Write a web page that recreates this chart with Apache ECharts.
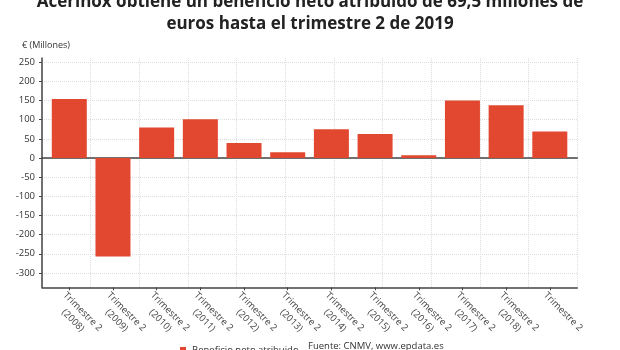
<!DOCTYPE html>
<html>
<head>
<meta charset="utf-8">
<script src="https://cdn.jsdelivr.net/npm/echarts@6/dist/echarts.min.js"></script>
<style>
  html, body { margin: 0; padding: 0; background: #fff; }
  #main { width: 620px; height: 350px; }
</style>
</head>
<body>
<div id="main"></div>
<script>
var categories = [
  'Trimestre 2\n(2008)', 'Trimestre 2\n(2009)', 'Trimestre 2\n(2010)', 'Trimestre 2\n(2011)',
  'Trimestre 2\n(2012)', 'Trimestre 2\n(2013)', 'Trimestre 2\n(2014)', 'Trimestre 2\n(2015)',
  'Trimestre 2\n(2016)', 'Trimestre 2\n(2017)', 'Trimestre 2\n(2018)', 'Trimestre 2'
];
var beneficio = [154, -257, 80, 101, 39, 15, 75, 63, 7, 150, 138, 69.5];
var yMin = -300, yMax = 250, yStep = 50;

var font = "'Open Sans', 'Noto Sans', sans-serif";
var myChart = echarts.init(document.getElementById('main'));
var option = {
  animation: false,
  textStyle: { fontFamily: font },
  title: {
    text: 'Acerinox obtiene un beneficio neto atribuido de 69,5 millones de\neuros hasta el trimestre 2 de 2019',
    left: 'center',
    top: -14,
    textStyle: { fontSize: 17, fontWeight: 'bold', color: '#222', lineHeight: 22, fontFamily: font }
  },
  legend: {
    data: ['Beneficio neto atribuido'],
    left: 175,
    top: 340,
    icon: 'rect',
    itemWidth: 6,
    itemHeight: 6,
    textStyle: { fontSize: 9.5, color: '#333', padding: [0, 0, 0, 1], fontFamily: font }
  },
  graphic: [
    { type: 'text', left: 22, top: 41, style: { text: '€ (Millones)', fontSize: 9, fill: '#333', fontFamily: font } },
    { type: 'text', left: 308, top: 341, style: { text: 'Fuente: CNMV, www.epdata.es', fontSize: 9.5, fill: '#333', fontFamily: font } }
  ],
  grid: [
    // marco: lineas verticales y ejes exteriores
    { left: 42, right: 42.7, top: 58, bottom: 62.7 },
    // eje y con etiquetas
    { left: 42, right: 42.7, top: 62.3, bottom: 77.1 },
    // barras
    { left: 47.45, right: 48.35, top: 62.3, bottom: 77.1 }
  ],
  xAxis: [
    {
      gridIndex: 0, type: 'value', min: 0, max: 11, interval: 1,
      axisLine: { show: true, onZero: false, lineStyle: { color: '#444', width: 1.5 } },
      axisTick: { show: false }, axisLabel: { show: false },
      splitLine: { show: true, lineStyle: { color: '#ddd', type: 'dotted' } }
    },
    {
      gridIndex: 1, type: 'value', min: 0, max: 1,
      axisLine: { show: true, onZero: true, lineStyle: { color: '#444', width: 1.5 } },
      axisTick: { show: false }, axisLabel: { show: false }, splitLine: { show: false }
    },
    {
      gridIndex: 2, type: 'category', data: categories, offset: 14.4,
      axisLine: { show: false, onZero: false },
      axisTick: { show: true, alignWithLabel: true, length: 3, lineStyle: { color: '#444' } },
      axisLabel: {
        rotate: -45, interval: 0, margin: 2, verticalAlign: 'top',
        formatter: function (v) {
          var p = v.split('\n');
          return '{a|' + p[0] + '}' + (p[1] ? '\n{b|' + p[1] + '}' : '');
        },
        rich: {
          a: { fontSize: 9.5, color: '#444', lineHeight: 13, fontFamily: font },
          b: { fontSize: 9.5, color: '#444', lineHeight: 13, padding: [0, 0, 0, 11], fontFamily: font }
        }
      }
    }
  ],
  yAxis: [
    {
      gridIndex: 0, type: 'value', min: 0, max: 1,
      axisLine: { show: true, lineStyle: { color: '#444', width: 1.5 } },
      axisTick: { show: false }, axisLabel: { show: false }, splitLine: { show: false }
    },
    {
      gridIndex: 1, type: 'value', min: yMin, max: yMax, interval: yStep,
      axisLine: { show: false },
      axisTick: { show: true, length: 3, lineStyle: { color: '#444' } },
      axisLabel: { fontSize: 9.5, color: '#333', margin: 7, fontFamily: font },
      splitLine: { show: true, lineStyle: { color: '#ddd', type: 'dotted' } }
    },
    {
      gridIndex: 2, type: 'value', min: yMin, max: yMax, interval: yStep,
      axisLine: { show: false }, axisTick: { show: false }, axisLabel: { show: false }, splitLine: { show: false }
    }
  ],
  series: [
    {
      name: 'Beneficio neto atribuido',
      type: 'bar',
      xAxisIndex: 2,
      yAxisIndex: 2,
      barWidth: 35,
      itemStyle: { color: '#e2472f' },
      data: beneficio
    }
  ]
};
myChart.setOption(option);
</script>
</body>
</html>
